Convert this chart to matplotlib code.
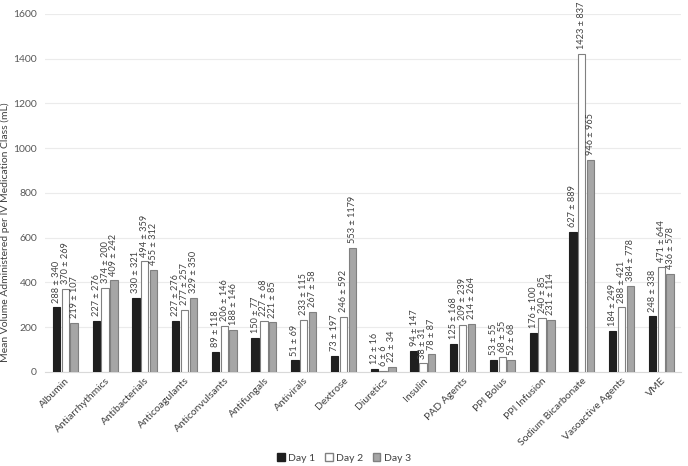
import matplotlib
matplotlib.use("Agg")
import matplotlib.pyplot as plt
import numpy as np
from matplotlib.patches import Patch

plt.rcParams['font.family'] = ['Lato', 'DejaVu Sans']

categories = ["Albumin", "Antiarrhythmics", "Antibacterials", "Anticoagulants",
              "Anticonvulsants", "Antifungals", "Antivirals", "Dextrose", "Diuretics",
              "Insulin", "PAD Agents", "PPI Bolus", "PPI Infusion", "Sodium Bicarbonate",
              "Vasoactive Agents", "VME"]
day1_mean = [288, 227, 330, 227, 89, 150, 51, 73, 12, 94, 125, 53, 176, 627, 184, 248]
day1_sd = [340, 276, 321, 276, 118, 77, 69, 197, 16, 147, 168, 55, 100, 889, 249, 338]
day2_mean = [370, 374, 494, 277, 206, 227, 233, 246, 6, 38, 209, 68, 240, 1423, 288, 471]
day2_sd = [269, 200, 359, 257, 146, 68, 115, 592, 6, 31, 239, 55, 85, 837, 421, 644]
day3_mean = [219, 409, 455, 329, 188, 221, 267, 553, 22, 78, 214, 52, 231, 946, 384, 436]
day3_sd = [107, 242, 312, 350, 146, 85, 58, 1179, 34, 87, 264, 68, 114, 965, 778, 578]

fig = plt.figure(figsize=(6.88, 4.66), dpi=100)
ax = fig.add_axes([0.066, 0.202, 0.924, 0.768])

x = np.arange(len(categories))
step = 0.222
bw = 0.185
series = [
    (day1_mean, day1_sd, "#1f1f1f", "#1f1f1f", "Day 1"),
    (day2_mean, day2_sd, "#ffffff", "#808080", "Day 2"),
    (day3_mean, day3_sd, "#a6a6a6", "#808080", "Day 3"),
]
offsets = [-step, 0, step]
for (m, s, fc, ec, lab), off in zip(series, offsets):
    ax.bar(x + off, m, width=bw, color=fc, edgecolor=ec, linewidth=0.8, label=lab, zorder=3)
    for xi, mi, si in zip(x + off, m, s):
        ax.annotate(f"{mi} ± {si}", (xi, mi), xytext=(0, 3.5), textcoords="offset points",
                    rotation=90, ha="center", va="bottom", fontsize=6.6, color="#404040")

ax.set_xlim(-0.5, len(categories) - 0.5)
ax.set_ylim(0, 1600)
ax.set_yticks(np.arange(0, 1601, 200))
ax.tick_params(axis='y', length=0, labelsize=7.5, colors="#595959", pad=6)
ax.tick_params(axis='x', length=0, pad=3)
ax.set_xticks(x)
ax.set_xticklabels(categories, rotation=45, ha="right", rotation_mode="anchor", fontsize=7.5, color="#404040")
ax.grid(axis='y', color="#ebebeb", linewidth=0.8, zorder=0)
for sp in ["top", "right", "left"]:
    ax.spines[sp].set_visible(False)
ax.spines["bottom"].set_color("#d9d9d9")
ax.set_ylabel("Mean Volume Administered per IV Medication Class (mL)", fontsize=7.5, color="#404040")
ax.yaxis.set_label_coords(-0.055, 0.39)

handles = [Patch(facecolor="#1f1f1f", edgecolor="#1f1f1f", label="Day 1"),
           Patch(facecolor="#ffffff", edgecolor="#808080", label="Day 2"),
           Patch(facecolor="#a6a6a6", edgecolor="#808080", label="Day 3")]
fig.legend(handles=handles, loc="center", ncol=3, frameon=False, fontsize=7.5,
           bbox_to_anchor=(0.5, 1 - 458 / 466), handlelength=0.7, handleheight=0.7,
           columnspacing=1.0, handletextpad=0.3, labelcolor="#404040")

fig.savefig("out.png", dpi=100)
